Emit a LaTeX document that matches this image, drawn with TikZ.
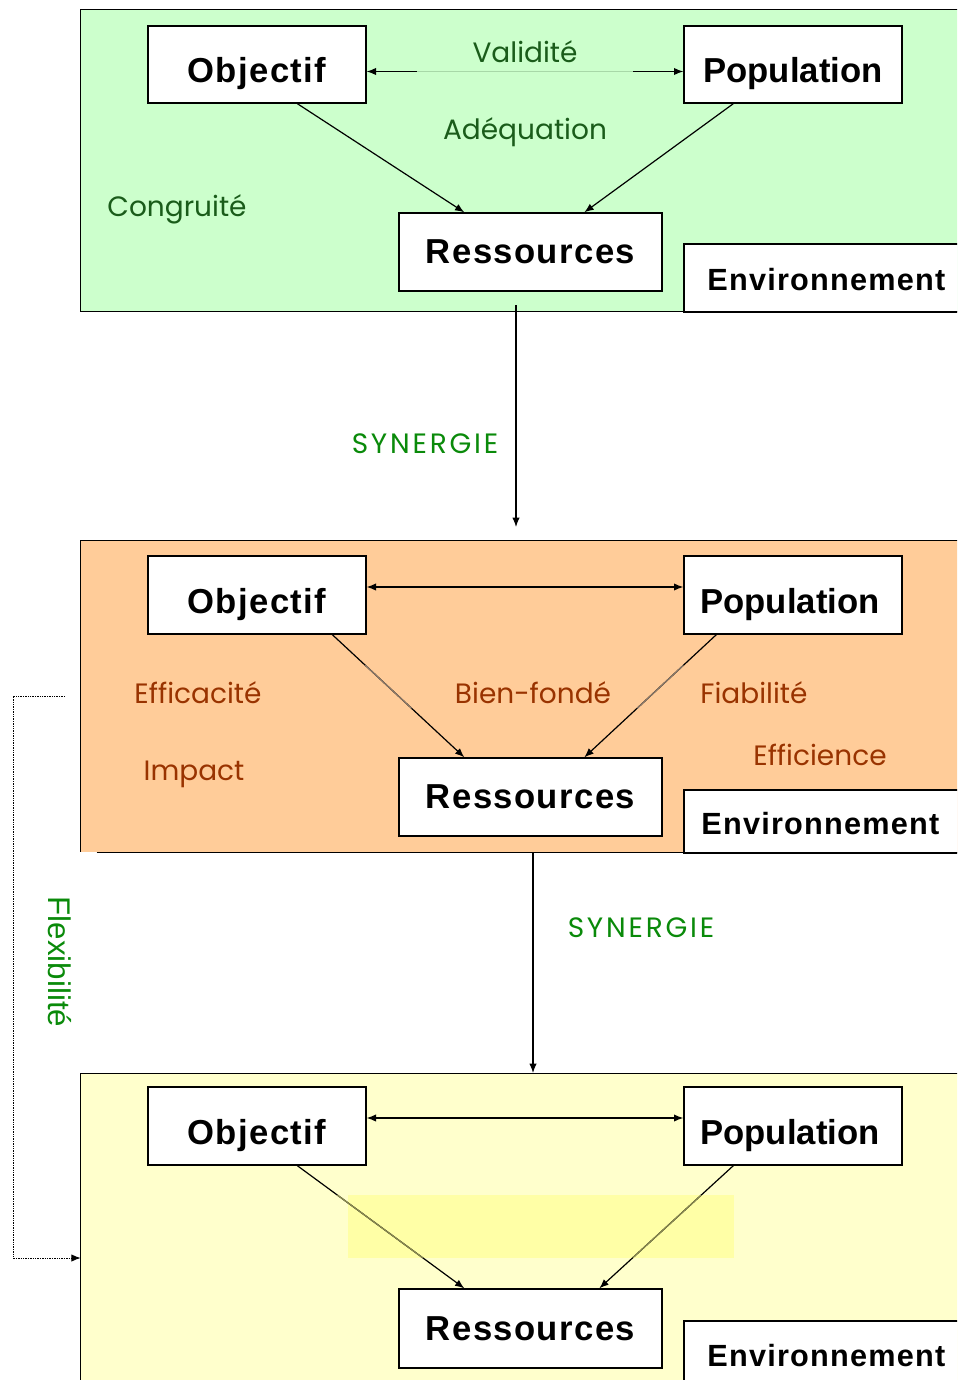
\documentclass[tikz,border=0pt]{standalone}
\usepackage{fontspec}
\setmainfont{Liberation Sans}
\newfontfamily\lblfont{Poppins}
\newfontfamily\boxfont[LetterSpace=4]{Liberation Sans}
\newfontfamily\popfont{Liberation Sans}
\usetikzlibrary{arrows.meta,calc,fit}
\definecolor{pgreen}{HTML}{CCFFCC}
\definecolor{porange}{HTML}{FFCC99}
\definecolor{pyellow}{HTML}{FFFFCC}
\definecolor{pband}{HTML}{FFFFA6}
\definecolor{dkgreen}{HTML}{1A5C1A}
\definecolor{brgreen}{HTML}{0A8A0A}
\definecolor{brown}{HTML}{993300}
\definecolor{faintg}{HTML}{A8D8A8}
\definecolor{fadeo}{HTML}{8C7A6A}
\definecolor{fadey}{HTML}{8A8A50}
\tikzset{
  panel/.style={inner sep=0pt, draw=none},
  box/.style={draw=black, line width=1pt, fill=white, inner sep=0pt},
  btxt/.style={inner sep=0pt, anchor=base, font=\boxfont\bfseries\fontsize{26}{26}\selectfont},
  ptxt/.style={inner sep=0pt, anchor=base, font=\popfont\bfseries\fontsize{26}{26}\selectfont},
  etxt/.style={inner sep=0pt, anchor=base, font=\boxfont\bfseries\fontsize{23}{23}\selectfont},
  lbl/.style={inner sep=0pt, anchor=base, font=\lblfont\fontsize{21}{21}\selectfont},
  syn/.style={lbl, text=brgreen, font=\lblfont\addfontfeatures{LetterSpace=10}\fontsize{21}{21}\selectfont},
  arr/.style={line width=0.9pt, -{Latex[length=7pt,width=5.5pt]}},
  darr/.style={line width=0.9pt, {Latex[length=7pt,width=5.5pt]}-{Latex[length=7pt,width=5.5pt]}},
  pborder/.style={line width=0.8pt, draw=black}
}
\begin{document}
\begin{tikzpicture}[x=0.75pt,y=-0.75pt]
\useasboundingbox (0,0) rectangle (957,1380);
\clip (0,0) rectangle (957,1380);

% ---------- panel 1 ----------
\node[panel, fill=pgreen, fit={(81,10) (980,311)}] (P1) {};
\draw[pborder] (P1.north east) -- (P1.north west) -- (P1.south west) -- (P1.south east);
\node[box, fit={(148,26) (366,103)}] (o1) {};
\node[box, fit={(684,26) (902,103)}] (p1) {};
\node[box, fit={(399,213) (662,291)}] (r1) {};
\node[box, fit={(684,244) (975,312)}] (e1) {};
\node[btxt] (o1t) at ($(o1.center)+(0,18)$) {Objectif};
\node[ptxt] (p1t) at ($(p1.center)+(0,18)$) {Population};
\node[btxt] (r1t) at ($(r1.center)+(0,11.5)$) {Ressources};
\node[etxt] (e1t) at ($(e1.north west)+(143,47)$) {Environnement};
\coordinate (a1) at ($(o1.east)+(0,7)$);
\coordinate (b1) at (a1 -| p1.west);
\draw[faintg, line width=0.6pt] (a1) -- (b1);
\draw[arr] ($(a1)+(50,0)$) -- (a1);
\draw[arr] ($(b1)+(-50,0)$) -- (b1);
\draw[arr] ($(o1.south west)+(150,0)$) -- ($(r1.north west)+(66,0)$);
\draw[arr] ($(p1.south west)+(50,0)$) -- ($(r1.north west)+(186,0)$);
\node[lbl, text=dkgreen] (v1) at (525,63) {Validité};
\node[lbl, text=dkgreen] (ad1) at (525,140) {Adéquation};
\node[lbl, text=dkgreen] (cg1) at (177,217) {Congruité};

% ---------- synergie 1 ----------
\coordinate (s1a) at (516,305);
\coordinate (s1b) at (516,527);
\draw[arr] (s1a) -- (s1b);
\node[syn] (syn1) at (425,453) {SYNERGIE};

% ---------- panel 2 ----------
\node[panel, fill=porange, fit={(81,541) (980,852)}] (P2) {};
\draw[pborder] (P2.north east) -- (P2.north west) -- (P2.south west);
\draw[pborder] ($(P2.south west)+(16,0)$) -- (P2.south east);
\node[box, fit={(148,556) (366,634)}] (o2) {};
\node[box, fit={(684,556) (902,634)}] (p2) {};
\node[box, fit={(399,758) (662,836)}] (r2) {};
\node[box, fit={(684,790) (960,853)}] (e2) {};
\node[btxt] (o2t) at ($(o2.center)+(0,18)$) {Objectif};
\node[ptxt] (p2t) at ($(p2.center)+(-3,18)$) {Population};
\node[btxt] (r2t) at ($(r2.center)+(0,11.5)$) {Ressources};
\node[etxt] (e2t) at ($(e2.north west)+(137,45)$) {Environnement};
\coordinate (a2) at ($(o2.east)+(0,-8)$);
\coordinate (b2) at (a2 -| p2.west);
\draw[darr] (a2) -- (b2);
\coordinate (d2a) at ($(o2.south west)+(185,0)$);
\coordinate (d2b) at ($(r2.north west)+(66,0)$);
\coordinate (d2c) at ($(p2.south west)+(33,0)$);
\coordinate (d2d) at ($(r2.north west)+(186,0)$);
\draw[arr] (d2a) -- (d2b);
\draw[arr] (d2c) -- (d2d);
\draw[fadeo, line width=0.9pt] ($(d2a)!0.25!(d2b)$) -- ($(d2a)!0.6!(d2b)$);
\draw[fadeo, line width=0.9pt] ($(d2c)!0.25!(d2d)$) -- ($(d2c)!0.6!(d2d)$);
\node[lbl, text=brown] (ef2) at (198,703) {Efficacité};
\node[lbl, text=brown] (bf2) at (533,703) {Bien-fondé};
\node[lbl, text=brown] (fi2) at (754,703) {Fiabilité};
\node[lbl, text=brown] (im2) at (194,780) {Impact};
\node[lbl, text=brown] (en2) at (820,765) {Efficience};

% ---------- synergie 2 ----------
\coordinate (s2a) at (533,852);
\coordinate (s2b) at (533,1073);
\draw[arr] (s2a) -- (s2b);
\node[syn] (syn2) at (641,937) {SYNERGIE};

% ---------- panel 3 ----------
\node[panel, fill=pyellow, fit={(81,1074) (980,1390)}] (P3) {};
\fill[pband] (348,1195) rectangle (734,1258);
\draw[pborder] (P3.north east) -- (P3.north west) -- (P3.south west);
\node[box, fit={(148,1087) (366,1165)}] (o3) {};
\node[box, fit={(684,1087) (902,1165)}] (p3) {};
\node[box, fit={(399,1289) (662,1368)}] (r3) {};
\node[box, fit={(684,1321) (975,1392)}] (e3) {};
\node[btxt] (o3t) at ($(o3.center)+(0,18)$) {Objectif};
\node[ptxt] (p3t) at ($(p3.center)+(-3,18)$) {Population};
\node[btxt] (r3t) at ($(r3.center)+(0,11.5)$) {Ressources};
\node[etxt] (e3t) at ($(e3.north west)+(143,46)$) {Environnement};
\coordinate (a3) at ($(o3.east)+(0,-8)$);
\coordinate (b3) at (a3 -| p3.west);
\draw[darr] (a3) -- (b3);
\coordinate (d3a) at ($(o3.south west)+(150,0)$);
\coordinate (d3b) at ($(r3.north west)+(66,0)$);
\coordinate (d3c) at ($(p3.south west)+(50,0)$);
\coordinate (d3d) at ($(r3.north west)+(201,0)$);
\draw[arr] (d3a) -- (d3b);
\draw[arr] (d3c) -- (d3d);
\draw[fadey, line width=0.9pt] ($(d3a)!0.24!(d3b)$) -- ($(d3a)!0.75!(d3b)$);
\draw[fadey, line width=0.9pt] ($(d3c)!0.24!(d3d)$) -- ($(d3c)!0.75!(d3d)$);

% ---------- flexibilite ----------
\coordinate (f0) at (65,696);
\coordinate (f3) at (P3.west |- 0,1258);
\draw[line width=0.7pt, dash pattern=on 1pt off 0.8pt, -{Latex[length=7pt,width=5.5pt]}] (f0) -- (13,696) -- (13,1258) -- (f3);
\node[inner sep=0pt, text=brgreen, rotate=-90, font=\fontsize{23.5}{23.5}\selectfont] (flx) at (60,962) {Flexibilité};
\end{tikzpicture}
\end{document}
